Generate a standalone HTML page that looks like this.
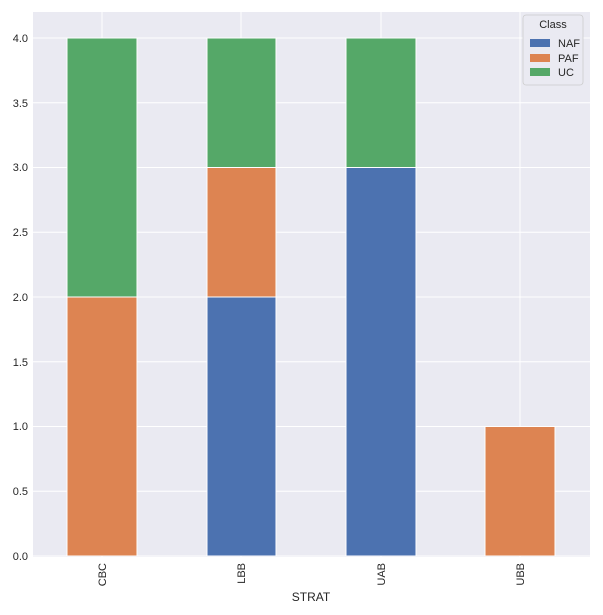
<!DOCTYPE html>
<html><head><meta charset="utf-8"><style>
body{margin:0;background:#fff;}
svg text{font-family:"Liberation Sans",sans-serif;fill:#262626;}
</style></head><body>
<svg width="603" height="610" xmlns="http://www.w3.org/2000/svg">
<rect x="33" y="12" width="557" height="545" fill="#eaeaf2"/>
<g stroke="#fff" stroke-width="1">
<line x1="33" x2="590" y1="556" y2="556"/>
<line x1="33" x2="590" y1="491.25" y2="491.25"/>
<line x1="33" x2="590" y1="426.5" y2="426.5"/>
<line x1="33" x2="590" y1="361.75" y2="361.75"/>
<line x1="33" x2="590" y1="297" y2="297"/>
<line x1="33" x2="590" y1="232.25" y2="232.25"/>
<line x1="33" x2="590" y1="167.5" y2="167.5"/>
<line x1="33" x2="590" y1="102.75" y2="102.75"/>
<line x1="33" x2="590" y1="38" y2="38"/>
<line x1="102" x2="102" y1="12" y2="557"/>
<line x1="241" x2="241" y1="12" y2="557"/>
<line x1="381" x2="381" y1="12" y2="557"/>
<line x1="520" x2="520" y1="12" y2="557"/>
</g>
<g stroke="#fff" stroke-width="1">
<rect x="67" y="297" width="70" height="259" fill="#dd8452"/>
<rect x="67" y="38" width="70" height="259" fill="#55a868"/>
<rect x="207" y="297" width="69" height="259" fill="#4c72b0"/>
<rect x="207" y="167.5" width="69" height="129.5" fill="#dd8452"/>
<rect x="207" y="38" width="69" height="129.5" fill="#55a868"/>
<rect x="346" y="167.5" width="70" height="388.5" fill="#4c72b0"/>
<rect x="346" y="38" width="70" height="129.5" fill="#55a868"/>
<rect x="485" y="426.5" width="70" height="129.5" fill="#dd8452"/>
</g>
<g font-size="11" text-anchor="end">
<text x="28" y="560">0.0</text>
<text x="28" y="495">0.5</text>
<text x="28" y="430">1.0</text>
<text x="28" y="366">1.5</text>
<text x="28" y="301">2.0</text>
<text x="28" y="236">2.5</text>
<text x="28" y="171">3.0</text>
<text x="28" y="107">3.5</text>
<text x="28" y="42">4.0</text>
</g>
<g font-size="11" text-anchor="end">
<text transform="translate(106,563) rotate(-90)">CBC</text>
<text transform="translate(245,563) rotate(-90)">LBB</text>
<text transform="translate(385,563) rotate(-90)">UAB</text>
<text transform="translate(524,563) rotate(-90)">UBB</text>
</g>
<text x="311" y="601" font-size="12" text-anchor="middle">STRAT</text>
<rect x="523" y="15" width="60" height="70" rx="3" fill="#eaeaf2" stroke="#cccccc" stroke-width="0.8"/>
<text x="553" y="28" font-size="11" text-anchor="middle">Class</text>
<rect x="530" y="39" width="20" height="8" fill="#4c72b0"/>
<rect x="530" y="54" width="20" height="8" fill="#dd8452"/>
<rect x="530" y="68" width="20" height="8" fill="#55a868"/>
<g font-size="11"><text x="558" y="47">NAF</text><text x="558" y="62">PAF</text><text x="558" y="76">UC</text></g>
</svg>
</body></html>
